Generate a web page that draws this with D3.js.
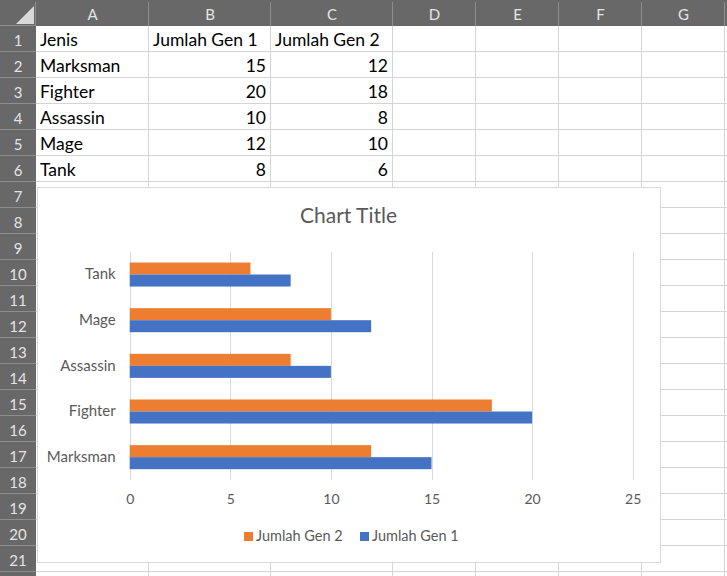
<!DOCTYPE html>
<html>
<head>
<meta charset="utf-8">
<script src="https://cdn.jsdelivr.net/npm/d3@7"></script>
<style>
  html, body { margin: 0; padding: 0; background: #fff; }
  svg { display: block; }
</style>
</head>
<body>
<svg id="mainsvg" width="727" height="576"></svg>
<script>
// data
const categories = ["Marksman", "Fighter", "Assassin", "Mage", "Tank"];
const gen1 = [15, 20, 10, 12, 8];
const gen2 = [12, 18, 8, 10, 6];
const seriesNames = ["Jumlah Gen 1", "Jumlah Gen 2"];
const xTicks = [0, 5, 10, 15, 20, 25];
const colLabels = ["A", "B", "C", "D", "E", "F", "G"];

const svg = d3.select("#mainsvg");
const W = +svg.attr("width");
const H = +svg.attr("height");
const font = "Lato, 'Open Sans', sans-serif";

// sheet layout
const headW = 36, headH = 26, rowH = 26;
const colEdges = [36, 149, 271, 393, 476, 559, 642, 725];
const nRows = 22;
const shownRows = 21; // row 22 is cut off at the bottom

svg.append("rect").attr("width", W).attr("height", H).attr("fill", "#fff");

// cell grid
const grid = svg.append("g").attr("stroke", "#d4d4d4").attr("shape-rendering", "crispEdges");
for (let r = 1; r <= nRows; r++) {
  const y = headH + r * rowH - 0.5;
  grid.append("line").attr("x1", headW).attr("x2", W).attr("y1", y).attr("y2", y);
}
colEdges.slice(1).forEach(x => {
  grid.append("line").attr("x1", x - 0.5).attr("x2", x - 0.5).attr("y1", headH).attr("y2", H);
});

// cell contents
const table = [["Jenis", seriesNames[0], seriesNames[1]]]
  .concat(categories.map((c, i) => [c, gen1[i], gen2[i]]));
table.forEach((row, r) => {
  row.forEach((v, c) => {
    const isNum = typeof v === "number";
    svg.append("text")
      .attr("x", isNum ? colEdges[c + 1] - 5 : colEdges[c] + 4)
      .attr("y", headH + r * rowH + 20)
      .attr("text-anchor", isNum ? "end" : "start")
      .attr("font-family", font)
      .attr("font-size", 17.5)
      .attr("fill", "#000")
      .text(v);
  });
});

// headers
svg.append("rect").attr("width", W).attr("height", headH).attr("fill", "#686868");
svg.append("rect").attr("width", headW).attr("height", H).attr("fill", "#686868");
const hl = svg.append("g").attr("stroke", "#8e8e8e").attr("shape-rendering", "crispEdges");
colEdges.forEach(x => {
  hl.append("line").attr("x1", x - 0.5).attr("x2", x - 0.5).attr("y1", 2).attr("y2", headH);
});
for (let r = 0; r <= nRows; r++) {
  const y = headH + r * rowH - 0.5;
  hl.append("line").attr("x1", 0).attr("x2", headW).attr("y1", y).attr("y2", y);
}
svg.append("path").attr("d", "M34,6 L34,24 L16,24 Z").attr("fill", "#d9d9d9");

colLabels.forEach((l, i) => {
  svg.append("text")
    .attr("x", (colEdges[i] + colEdges[i + 1]) / 2)
    .attr("y", 19.5)
    .attr("text-anchor", "middle")
    .attr("font-family", font)
    .attr("font-size", 15)
    .attr("fill", "#e4e4e4")
    .text(l);
});
for (let r = 1; r <= shownRows; r++) {
  svg.append("text")
    .attr("x", 18)
    .attr("y", headH + (r - 1) * rowH + 19.5)
    .attr("text-anchor", "middle")
    .attr("font-family", font)
    .attr("font-size", 15)
    .attr("fill", "#e4e4e4")
    .text(r);
}

// chart area
const chart = { x: 37, y: 187, w: 623, h: 375 };
svg.append("rect")
  .attr("x", chart.x + 0.5).attr("y", chart.y + 0.5)
  .attr("width", chart.w).attr("height", chart.h)
  .attr("fill", "#fff").attr("stroke", "#d9d9d9");

svg.append("text")
  .attr("x", chart.x + chart.w / 2)
  .attr("y", 222.5)
  .attr("text-anchor", "middle")
  .attr("font-family", font)
  .attr("font-size", 21)
  .attr("fill", "#595959")
  .text("Chart Title");

const plot = { left: 129.7, right: 632.7, top: 251.7, bottom: 480 };

const x = d3.scaleLinear().domain([0, 25]).range([plot.left, plot.right]);
const y = d3.scaleBand().domain(categories.slice().reverse()).range([plot.top, plot.bottom]);
const ySub = d3.scaleBand().domain(["g2", "g1"]).range([0, y.bandwidth()]).paddingOuter(0.9);

const color = { g1: "#4472C4", g2: "#ED7D31" };

// gridlines + axis
const xAxis = svg.append("g")
  .attr("transform", `translate(0,${plot.bottom})`)
  .call(d3.axisBottom(x).tickValues(xTicks).tickSize(-(plot.bottom - plot.top)).tickPadding(14));
xAxis.select(".domain").remove();
xAxis.selectAll("line").attr("stroke", "#d9d9d9").attr("shape-rendering", "crispEdges");
xAxis.selectAll("text")
  .attr("font-family", font).attr("font-size", 14).attr("fill", "#595959");

const yAxis = svg.append("g")
  .attr("transform", `translate(${plot.left - 14},0)`)
  .call(d3.axisLeft(y).tickSize(0).tickPadding(0));
yAxis.select(".domain").remove();
yAxis.selectAll("text")
  .attr("font-family", font).attr("font-size", 15).attr("fill", "#595959");

// bars
const rows = categories.map((c, i) => ({ cat: c, g1: gen1[i], g2: gen2[i] }));
const bars = svg.append("g");
["g2", "g1"].forEach(k => {
  bars.selectAll(`.bar-${k}`)
    .data(rows)
    .join("rect")
    .attr("class", `bar-${k}`)
    .attr("x", x(0))
    .attr("y", d => y(d.cat) + ySub(k))
    .attr("width", d => x(d[k]) - x(0))
    .attr("height", ySub.bandwidth())
    .attr("fill", color[k]);
});

// legend (reversed order like Excel)
const legendItems = [
  { key: "g2", name: seriesNames[1], x: 244 },
  { key: "g1", name: seriesNames[0], x: 360 }
];
const legend = svg.append("g");
legendItems.forEach(it => {
  legend.append("rect")
    .attr("x", it.x).attr("y", 532).attr("width", 9).attr("height", 9)
    .attr("fill", color[it.key]);
  legend.append("text")
    .attr("x", it.x + 12).attr("y", 541)
    .attr("font-family", font).attr("font-size", 14.5).attr("fill", "#595959")
    .text(it.name);
});
</script>
</body>
</html>
